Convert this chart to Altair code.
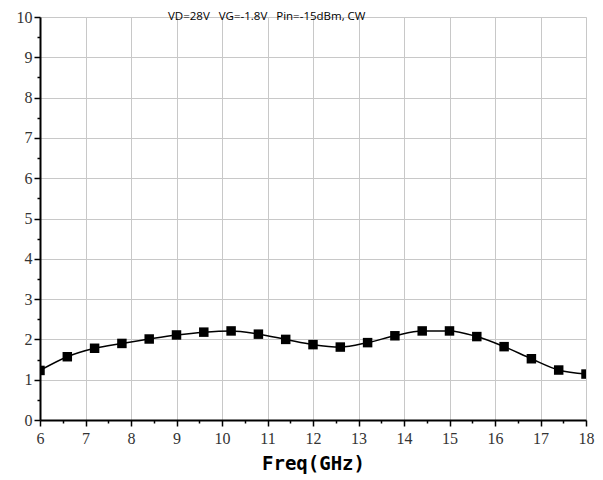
import altair as alt
import pandas as pd

freq = [6.0, 6.6, 7.2, 7.8, 8.4, 9.0, 9.6, 10.2, 10.8, 11.4, 12.0,
        12.6, 13.2, 13.8, 14.4, 15.0, 15.6, 16.2, 16.8, 17.4, 18.0]
value = [1.23, 1.57, 1.78, 1.90, 2.01, 2.11, 2.18, 2.21, 2.13, 2.00, 1.87,
         1.81, 1.92, 2.09, 2.21, 2.21, 2.07, 1.82, 1.52, 1.24, 1.14]
x_ticks = [v / 2 for v in range(12, 37)]
y_ticks = [v / 2 for v in range(0, 21)]
title_text = "VD=28V\u00a0\u00a0\u00a0VG=-1.8V\u00a0\u00a0\u00a0Pin=-15dBm,\u00a0CW"

df = pd.DataFrame({"freq": freq, "value": value})

minor = "datum.value % 1 !== 0"
label_expr = "datum.value % 1 === 0 ? format(datum.value, 'd') : ''"
serif = "Liberation Serif"

x_axis = alt.Axis(
    values=x_ticks,
    title="Freq(GHz)",
    titleFont="DejaVu Sans Mono", titleFontSize=19, titleFontWeight="bold",
    titleColor="black", titlePadding=8,
    labelExpr=label_expr,
    labelFont=serif, labelFontSize=16, labelColor="#333",
    labelPadding=4, labelOverlap=False, labelFlush=False,
    domainColor="black", domainWidth=2,
    tickColor="black", tickWidth=1.5,
    tickSize={"condition": {"test": minor, "value": 3}, "value": 6},
    gridColor="#c8c8c8", gridWidth=1,
    gridOpacity={"condition": {"test": minor, "value": 0}, "value": 1},
)
y_axis = alt.Axis(
    values=y_ticks,
    title=None,
    labelExpr=label_expr,
    labelFont=serif, labelFontSize=16, labelColor="#333",
    labelPadding=2, labelOverlap=False, labelFlush=False,
    domainColor="black", domainWidth=2,
    tickColor="black", tickWidth=1.5,
    tickSize={"condition": {"test": minor, "value": 3}, "value": 6},
    gridColor="#c8c8c8", gridWidth=1,
    gridOpacity={"condition": {"test": minor, "value": 0}, "value": 1},
)

x_enc = alt.X("freq:Q", scale=alt.Scale(domain=[6, 18], nice=False, zero=False), axis=x_axis)
y_enc = alt.Y("value:Q", scale=alt.Scale(domain=[0, 10], nice=False), axis=y_axis)

base = alt.Chart(df).encode(x=x_enc, y=y_enc)
line = base.mark_line(color="black", strokeWidth=1.5, interpolate="monotone", clip=True)
pts = base.mark_point(shape="square", filled=True, color="black", size=90, opacity=1, clip=True)

chart = alt.layer(line, pts).properties(
    width=546, height=403,
    title=alt.TitleParams(title_text, anchor="start", dx=152, dy=17,
                          font="Open Sans", fontSize=11.5, fontWeight="normal", color="black"),
    autosize=alt.AutoSizeParams(type="none"),
    padding={"left": 32, "top": 9, "right": 9, "bottom": 58},
).configure_view(
    stroke="#333", strokeWidth=1.5
).configure_axis(
    labelFont=serif, labelFontSize=16, labelColor="#333"
).configure(background="white")

chart.save("out.html", embed_options={"renderer": "svg", "actions": False})
